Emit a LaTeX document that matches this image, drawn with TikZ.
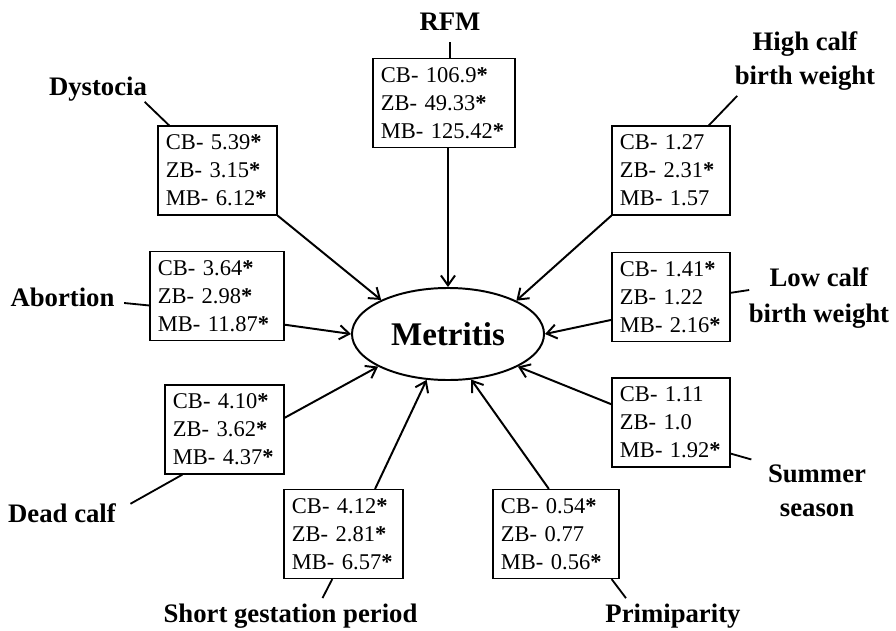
\documentclass[tikz,border=0pt]{standalone}
\usepackage{fontspec}
\setmainfont{Liberation Serif}
\usetikzlibrary{arrows.meta, shapes.geometric, calc}

\newcommand{\signif}{\textbf{*}}

\begin{document}
\begin{tikzpicture}[
    x=0.025cm, y=-0.025cm, % one unit per pixel, y grows downwards
    >={Straight Barb[length=7pt,width=10pt]},
    every node/.style={font={\fontsize{16}{20}\selectfont}}, % text inside the boxes
    oddsbox/.style={draw, line width=0.8pt, align=left, inner xsep=0.2cm, inner ysep=2pt,
      minimum height=2.225cm, text width=#1},
    oddsbox/.default=2.575cm,
    risk/.style={align=center, inner sep=1pt, font={\fontsize{19}{24}\selectfont\bfseries}},
    cause/.style={->, line width=1.4pt},
    tie/.style={line width=1.3pt}
  ]

  \useasboundingbox (0,0) rectangle (896,631);

  \node[ellipse, draw, line width=1.4pt, inner sep=0pt, minimum width=4.8cm, minimum height=2.3cm,
    font={\fontsize{23.5}{28}\selectfont\bfseries}] (met) at (448,334) {Metritis};

  % odds ratios per breed
  \node[oddsbox] (dys) at (217.5,170.5) {CB- 5.39\signif\\ZB- 3.15\signif\\MB- 6.12\signif};
  \node[oddsbox=3.15cm] (rfm) at (444,103) {CB- 106.9\signif\\ZB- 49.33\signif\\MB- 125.42\signif};
  \node[oddsbox=2.55cm] (hcbw) at (671,170.5) {CB- 1.27\\ZB- 2.31\signif\\MB- 1.57};
  \node[oddsbox=2.95cm] (abo) at (217,296) {CB- 3.64\signif\\ZB- 2.98\signif\\MB- 11.87\signif};
  \node[oddsbox=2.55cm] (lcbw) at (671,297) {CB- 1.41\signif\\ZB- 1.22\\MB- 2.16\signif};
  \node[oddsbox] (dead) at (224.5,429.5) {CB- 4.10\signif\\ZB- 3.62\signif\\MB- 4.37\signif};
  \node[oddsbox=2.55cm] (summ) at (671,422.5) {CB- 1.11\\ZB- 1.0\\MB- 1.92\signif};
  \node[oddsbox] (sgp) at (343.5,534) {CB- 4.12\signif\\ZB- 2.81\signif\\MB- 6.57\signif};
  \node[oddsbox=2.75cm] (prim) at (556,534) {CB- 0.54\signif\\ZB- 0.77\\MB- 0.56\signif};

  % risk factor names
  \node[risk] (dysname) at (98,89) {Dystocia};
  \node[risk] (rfmname) at (450,22) {RFM};
  \node[risk] (hcbwname) at (805,61) {High calf\\birth weight};
  \node[risk] (aboname) at (62.5,297) {Abortion};
  \node[risk, font={\fontsize{19}{26}\selectfont\bfseries}] (lcbwname) at (819,298) {Low calf\\birth weight};
  \node[risk] (deadname) at (62,513) {Dead calf};
  \node[risk] (summname) at (817,491) {Summer\\season};
  \node[risk] (sgpname) at (290.5,616) {Short gestation period};
  \node[risk] (primname) at (673,616) {Primiparity};

  \draw[tie] ($(dysname.south east)+(-4,-1)$) -- (dys.137);
  \draw[tie] ($(rfmname.south)+(0,10)$) -- (rfmname |- rfm.north);
  \draw[tie] ($(hcbwname.south west)+(4,4)$) -- (hcbw.50);
  \draw[tie] ($(aboname.east)+(8,6)$) -- (abo.188);
  \draw[tie] (lcbw.4) -- ($(lcbwname.west)+(2,-8)$);
  \draw[tie] ($(deadname.north east)+(13,2)$) -- (dead.227);
  \draw[tie] ($(summ.south east)+(0,-14)$) -- ($(summname.north west)+(-15,-4)$);
  \draw[tie] (sgp.256) -- ($(sgpname.north)+(32,-4)$);
  \draw[tie] ($(prim.south east)+(-8,0)$) -- ($(primname.north)+(-47,-4)$);

  \draw (dys.south east) edge[cause] (met.153);
  \draw (rfm.south -| met) edge[cause] (met.north);
  \draw (hcbw.south west) edge[cause] (met.26);
  \draw (abo.-23) edge[cause] (met.west);
  \draw (lcbw.201) edge[cause] (met.east);
  \draw (dead.11) edge[cause] (met.205);
  \draw (summ.163) edge[cause] (met.335);
  \draw (sgp.55) edge[cause] (met.245);
  \draw (prim.99) edge[cause] (met.297);

\end{tikzpicture}
\end{document}
